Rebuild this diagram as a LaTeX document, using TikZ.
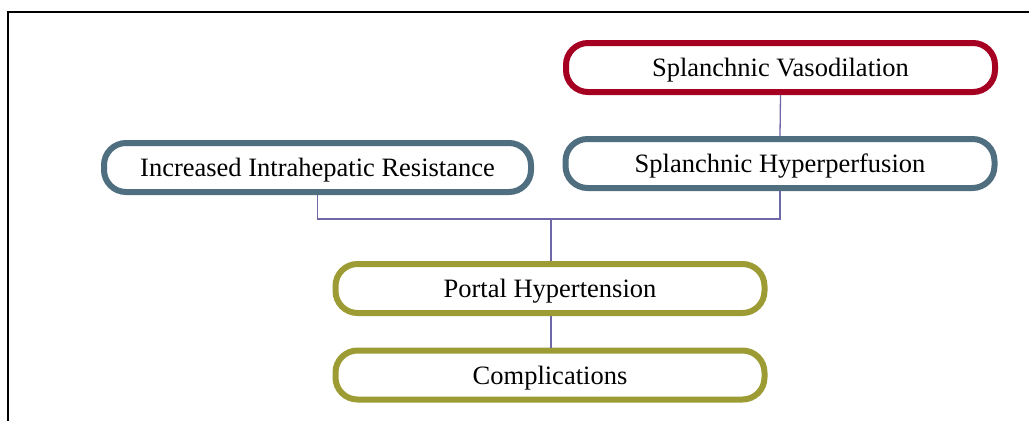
\documentclass[tikz,border=0pt]{standalone}
\usepackage{fontspec}
\setmainfont{Liberation Serif}
\definecolor{vred}{HTML}{A50021}
\definecolor{vblue}{HTML}{4F6E80}
\definecolor{volive}{HTML}{9C9B34}
\definecolor{vconn}{HTML}{6F68A8}
\tikzset{
  pill/.style={draw=#1, line width=6pt, rounded corners=22pt, fill=white,
    minimum width=429pt, minimum height=49pt, inner sep=0pt,
    text height=18pt, text depth=0pt,
    font=\fontsize{26.5}{30}\selectfont},
  conn/.style={draw=vconn, line width=1.3pt}
}
\begin{document}
\begin{tikzpicture}[x=1pt,y=-1pt]
\useasboundingbox (0,0) rectangle (1029,421);
\draw[line width=2pt, black] (8,421) -- (8,12) -- (1029,12);
\node[pill=vred] (sv) at (780.5,67.5) {Splanchnic Vasodilation};
\node[pill=vblue] (sh) at (780,163.5) {Splanchnic Hyperperfusion};
\node[pill=vblue, minimum width=427pt] (ir) at (317.5,167.5) {Increased Intrahepatic Resistance};
\node[pill=volive] (ph) at (550,288.5) {Portal Hypertension};
\node[pill=volive] (co) at (550,375) {Complications};
\coordinate (j) at (551,219);
\draw[conn] (sv.south) -- (sh.north);
\draw[conn] (ir.south) |- (j) -| (sh.south);
\draw[conn] (j) -- (j |- ph.north);
\draw[conn] (ph.south -| j) -- (co.north -| j);
\end{tikzpicture}
\end{document}
